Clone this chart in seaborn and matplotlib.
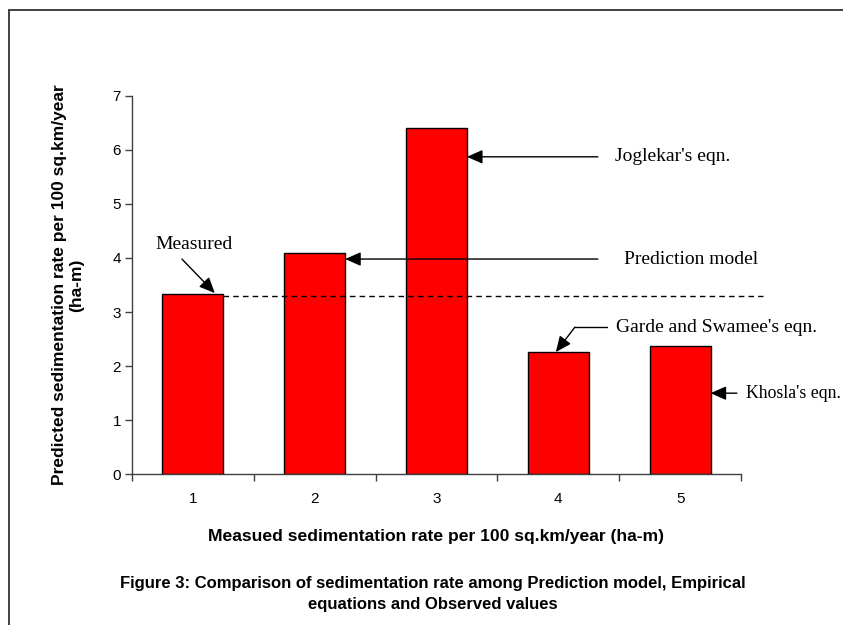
import matplotlib
matplotlib.use("Agg")
import matplotlib.pyplot as plt
from matplotlib.lines import Line2D
import seaborn as sns
import pandas as pd

# Sedimentation rates (ha-m per 100 sq.km/year)
categories = ["1", "2", "3", "4", "5"]
rates = [3.34, 4.10, 6.40, 2.26, 2.38]
measured_rate = 3.30
method_labels = ["Measured", "Prediction model", "Joglekar's eqn.",
                 "Garde and Swamee's eqn.", "Khosla's eqn."]
y_ticks = [0, 1, 2, 3, 4, 5, 6, 7]

df = pd.DataFrame({"category": categories, "rate": rates})

sns.set_theme(style="white")
plt.rcParams["font.family"] = ["Liberation Sans", "DejaVu Sans"]
plt.rcParams["text.color"] = "black"
plt.rcParams["axes.labelcolor"] = "black"
plt.rcParams["xtick.color"] = "black"
plt.rcParams["ytick.color"] = "black"

W, H = 843, 625
fig = plt.figure(figsize=(W / 100, H / 100), dpi=100)
ax = fig.add_axes([132 / W, (H - 474.3) / H, (741 - 132) / W, (474.3 - 95.7) / H])

sns.barplot(data=df, x="category", y="rate", ax=ax, color="#FF0000",
            saturation=1, width=0.5, edgecolor="black", linewidth=1.0)

ax.set_xlim(-0.5, 4.5)
ax.set_ylim(0, 7)
ax.set_yticks(y_ticks)
ax.set_yticklabels([str(t) for t in y_ticks], fontsize=11)

# Tick marks sit between categories; labels sit under the bars
ax.set_xticks([i - 0.5 for i in range(len(categories) + 1)])
ax.set_xticklabels([""] * (len(categories) + 1))
ax.set_xticks(range(len(categories)), minor=True)
ax.set_xticklabels(categories, minor=True, fontsize=11)
ax.tick_params(axis="x", which="major", direction="out", length=5, width=1, color="#404040", bottom=True)
ax.tick_params(axis="x", which="minor", length=0, pad=13, bottom=True)
ax.tick_params(axis="y", direction="out", length=5, width=1, color="#404040", left=True, pad=3)

for side in ["top", "right"]:
    ax.spines[side].set_visible(False)
for side in ["left", "bottom"]:
    ax.spines[side].set_color("#404040")
    ax.spines[side].set_linewidth(1.0)

ax.set_xlabel("Measued sedimentation rate per 100 sq.km/year (ha-m)",
              fontsize=12.6, fontweight="bold", labelpad=16)
ax.set_ylabel("Predicted sedimentation rate per 100 sq.km/year\n(ha-m)",
              fontsize=12.5, fontweight="bold", labelpad=20, linespacing=1.2)

# Measured value reference line
ax.plot([0.25, 4.68], [measured_rate, measured_rate], ls=(0, (4, 3)),
        color="black", lw=1.0, clip_on=False)

serif = ["Liberation Serif", "DejaVu Serif"]
arrow = dict(arrowstyle="-|>,head_length=0.95,head_width=0.42", color="black",
             lw=1.0, mutation_scale=10, shrinkA=0, shrinkB=0)

# Measured
ax.annotate("", xy=(0.18, 3.35), xytext=(-0.09, 3.98), arrowprops=arrow,
            annotation_clip=False)
ax.text(0.01, 4.24, method_labels[0], family=serif, fontsize=14,
        ha="center", va="center")

# Prediction model
ax.annotate("", xy=(1.25, 3.98), xytext=(3.325, 3.98), arrowprops=arrow,
            annotation_clip=False)
ax.text(3.54, 3.98, method_labels[1], family=serif, fontsize=14,
        ha="left", va="center")

# Joglekar
ax.annotate("", xy=(2.25, 5.87), xytext=(3.325, 5.87), arrowprops=arrow,
            annotation_clip=False)
ax.text(3.465, 5.87, method_labels[2], family=serif, fontsize=14,
        ha="left", va="center")

# Garde and Swamee (bent leader)
ax.plot([3.40, 3.136], [2.72, 2.72], color="black", lw=1.0, clip_on=False)
ax.annotate("", xy=(2.98, 2.26), xytext=(3.136, 2.72), arrowprops=arrow,
            annotation_clip=False)
ax.text(3.47, 2.72, method_labels[3], family=serif, fontsize=14,
        ha="left", va="center")

# Khosla (sized to stay inside the figure)
ax.annotate("", xy=(4.25, 1.50), xytext=(4.466, 1.50), arrowprops=arrow,
            annotation_clip=False)
ax.text(4.54, 1.50, method_labels[4], family=serif, fontsize=12.8,
        ha="left", va="center", clip_on=False)

# Figure caption
fig.text(433 / W, 1 - 594 / H,
         "Figure 3: Comparison of sedimentation rate among Prediction model, Empirical\nequations and Observed values",
         ha="center", va="center", fontsize=12, fontweight="bold", linespacing=1.45)

# Frame around the figure
fig.add_artist(Line2D([9 / W, 9 / W], [-0.1, 1 - 10 / H], transform=fig.transFigure,
                      color="#333333", lw=1.3))
fig.add_artist(Line2D([9 / W, 1.1], [1 - 10 / H, 1 - 10 / H], transform=fig.transFigure,
                      color="#333333", lw=1.3))

fig.savefig("out.png", dpi=100)
